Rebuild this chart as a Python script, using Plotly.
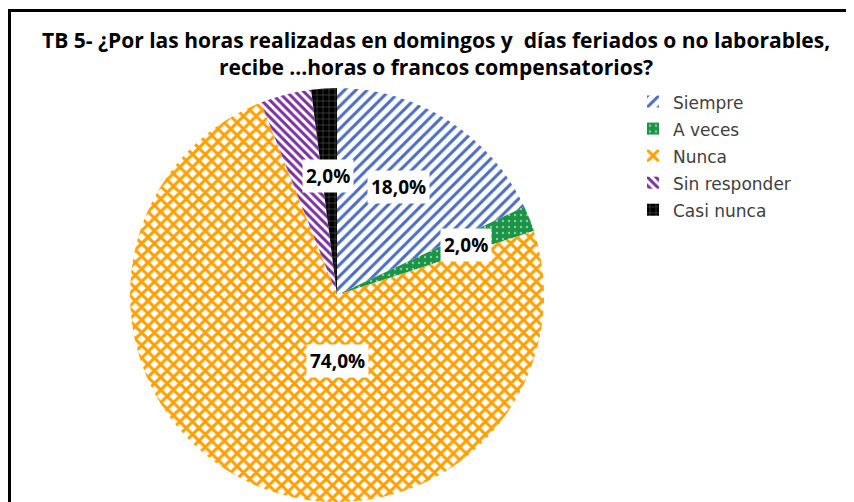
import math
import plotly.graph_objects as go

# ---------------- data ----------------
categories = ["Siempre", "A veces", "Nunca", "Sin responder", "Casi nunca"]
values = [18.0, 2.0, 74.0, 4.0, 2.0]
show_label = [True, True, True, False, True]
title_lines = ["TB 5- ¿Por las horas realizadas en domingos y  días feriados o no laborables,",
               "recibe ...horas o francos compensatorios?"]

# ---------------- styles ----------------
OFF = 8                      # page offset of the figure (body margin)
PW, PH = 854, 502            # page size
W, H = PW - OFF, PH - OFF    # figure size

fg = ["#4A6CC6", "#86D2A0", "#FF9F00", "#7A2F9E", "#6A6A6A"]
bg = ["#FFFFFF", "#1C9448", "#FFFFFF", "#FFFFFF", "#000000"]
shapes_ = ["/", ".", "x", "\\", "+"]
psize = [8, 6, 9, 6, 6]
solid = [0.38, 0.12, 0.55, 0.5, 0.15]


def fx(px):
    return (px - OFF) / W


def fy(py):
    return 1 - (py - OFF) / H


# pie geometry (page pixels)
cx, cy, R = 337, 295, 207
dom_x = [fx(cx - R), fx(cx + R)]
dom_y = [max(0.0, fy(cy + R)), fy(cy - R)]

# label placement: fraction of slice angle, fraction of radius
label_af = [0.455, 0.58, 0.405, 0.5, 0.47]
label_rf = [0.60, 0.67, 0.40, 0.6, 0.66]

fig = go.Figure()
fig.add_trace(go.Pie(
    labels=[f"<span style='font-size:17px'>{c}</span>" for c in categories],
    values=values,
    sort=False,
    direction="clockwise",
    rotation=0,
    textinfo="none",
    hoverinfo="label+percent",
    domain=dict(x=dom_x, y=dom_y),
    marker=dict(
        colors=bg,
        line=dict(width=0, color="white"),
        pattern=dict(shape=shapes_, fgcolor=fg, bgcolor=bg, size=psize,
                     solidity=solid, fillmode="replace", fgopacity=1),
    ),
))

# percentage labels computed from the data
total = sum(values)
annotations = []
start = 0.0
for i, v in enumerate(values):
    span = v / total * 360.0
    if show_label[i]:
        ang = math.radians(start + span * label_af[i])
        px = cx + R * label_rf[i] * math.sin(ang)
        py = cy - R * label_rf[i] * math.cos(ang)
        pct = f"{v / total * 100:.1f}%".replace(".", ",")
        annotations.append(dict(
            x=fx(px), y=fy(py), xref="paper", yref="paper",
            text=f"<b>{pct}</b>", showarrow=False,
            font=dict(family="Open Sans", size=19, color="#000000"),
            bgcolor="#FFFFFF", borderpad=3,
        ))
    start += span

# title (two lines in one text block)
annotations.append(dict(
    x=fx(436), y=fy(53.5), xref="paper", yref="paper",
    xanchor="center", yanchor="middle", showarrow=False,
    text="<b>" + "<br>".join(title_lines) + "</b>",
    font=dict(family="Open Sans", size=21, color="#000000"),
))

fig.update_layout(
    width=W, height=H,
    margin=dict(l=0, r=0, t=0, b=0),
    paper_bgcolor="white",
    plot_bgcolor="white",
    showlegend=True,
    legend=dict(x=fx(633), y=fy(83), xanchor="left", yanchor="top",
                font=dict(family="DejaVu Sans", size=18.5, color="#404040"),
                bgcolor="rgba(0,0,0,0)", itemclick=False),
    annotations=annotations,
    shapes=[dict(type="rect", xref="paper", yref="paper",
                 x0=fx(9.5), x1=1.05, y0=-0.05, y1=fy(10.5),
                 line=dict(color="black", width=3))],
)

fig.write_html("out.html")
